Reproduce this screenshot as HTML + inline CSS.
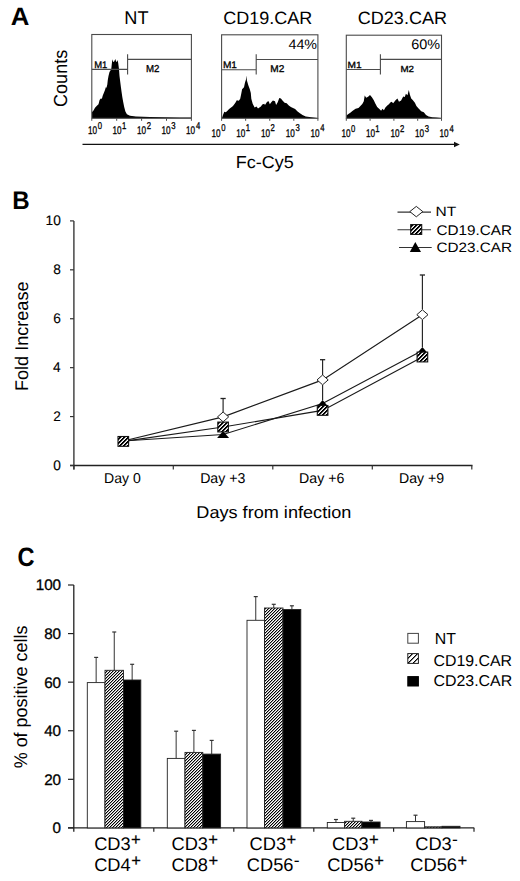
<!DOCTYPE html>
<html><head><meta charset="utf-8"><style>
html,body{margin:0;padding:0;background:#fff;}
svg{display:block;}
text{font-family:"Liberation Sans", sans-serif;fill:#000;font-kerning:none;text-rendering:geometricPrecision;}
.s{stroke:#000;stroke-width:0.3px;}
.n{stroke:#000;stroke-width:0.3px;}
.nb{stroke:#000;stroke-width:0.12px;}
.p{stroke:#000;stroke-width:0.25px;}
</style></head><body>
<svg width="520" height="881" viewBox="0 0 520 881">
<rect width="520" height="881" fill="#fff"/>
<text x="10.81" y="24.62" font-size="25.25" font-weight="bold" textLength="18.62" lengthAdjust="spacingAndGlyphs">A</text>
<text x="124.31" y="23.90" font-size="18.46" textLength="24.21" lengthAdjust="spacingAndGlyphs">NT</text>
<text x="223.29" y="23.90" font-size="17.76" textLength="89.05" lengthAdjust="spacingAndGlyphs">CD19.CAR</text>
<text x="357.78" y="23.80" font-size="17.90" textLength="89.25" lengthAdjust="spacingAndGlyphs">CD23.CAR</text>
<text transform="translate(67.30,106.91) rotate(-90)" x="0" y="0" font-size="18.90" textLength="57.07" lengthAdjust="spacingAndGlyphs">Counts</text>
<text x="235.72" y="168.30" font-size="17.33" textLength="58.03" lengthAdjust="spacingAndGlyphs">Fc-Cy5</text>
<line x1="82.5" y1="144.4" x2="455" y2="144.4" stroke="#111" stroke-width="1.4"/>
<polygon points="454,141.8 459.8,144.5 454,147.2" fill="#111"/>
<polygon points="91.9,118.2 91.9,112.3 93.5,110.4 95,107.7 96.9,105.8 98.5,104.2 99.6,100 100.8,98.5 101.9,98.8 102.7,95.8 103.8,93.1 105,90 105.8,87.3 106.5,87.7 107.3,84.6 107.8,80 108.5,76 109.5,72 111.25,69.3 111.8,64 112.4,59.2 113.2,62 114.2,61.5 115.3,58.9 116.3,62 117.0,61.5 117.6,60.1 118.2,63 119,69.3 119.5,76 120,80 120.8,86.2 121.5,91.5 122.3,96.9 123.1,101.5 124.2,106.9 125.4,111.5 126.9,114.2 130,115.8 136,116.6 150,116.9 165,117.2 180,117.4 191.2,117.6 191.2,118.2" fill="#000"/>
<rect x="91.8" y="34.5" width="99.60" height="83.80" fill="none" stroke="#4a4a4a" stroke-width="1.1"/>
<path d="M91.8,69.4H127.6M127.6,54.2V74.4M127.6,59.4H191.4" fill="none" stroke="#4a4a4a" stroke-width="1.1"/>
<text x="94.22" y="67.70" font-size="9.45" class="s" textLength="13.14" lengthAdjust="spacingAndGlyphs">M1</text>
<text x="146.00" y="72.00" font-size="10.03" class="s" textLength="13.48" lengthAdjust="spacingAndGlyphs">M2</text>
<line x1="91.80" y1="118.3" x2="91.80" y2="120.8" stroke="#4a4a4a" stroke-width="1"/>
<text class="s" transform="translate(88.08,133.80) scale(0.73,1)" font-size="11.2">10</text>
<text class="s" transform="translate(97.80,128.70) scale(0.78,1)" font-size="9.9">0</text>
<line x1="116.70" y1="118.3" x2="116.70" y2="120.8" stroke="#4a4a4a" stroke-width="1"/>
<text class="s" transform="translate(112.58,133.80) scale(0.73,1)" font-size="11.2">10</text>
<text class="s" transform="translate(122.01,128.70) scale(0.78,1)" font-size="9.9">1</text>
<line x1="141.60" y1="118.3" x2="141.60" y2="120.8" stroke="#4a4a4a" stroke-width="1"/>
<text class="s" transform="translate(137.08,133.80) scale(0.73,1)" font-size="11.2">10</text>
<text class="s" transform="translate(146.71,128.70) scale(0.78,1)" font-size="9.9">2</text>
<line x1="166.50" y1="118.3" x2="166.50" y2="120.8" stroke="#4a4a4a" stroke-width="1"/>
<text class="s" transform="translate(161.58,133.80) scale(0.73,1)" font-size="11.2">10</text>
<text class="s" transform="translate(171.31,128.70) scale(0.78,1)" font-size="9.9">3</text>
<line x1="191.40" y1="118.3" x2="191.40" y2="120.8" stroke="#4a4a4a" stroke-width="1"/>
<text class="s" transform="translate(186.08,133.80) scale(0.73,1)" font-size="11.2">10</text>
<text class="s" transform="translate(195.92,128.70) scale(0.78,1)" font-size="9.9">4</text>
<polygon points="221.9,118.2 222.9,115.2 224.3,111.8 225.8,112.3 227.2,110.9 229.1,108.9 231.1,107.5 233,106.1 235.4,102.7 236.8,100.3 238.8,100.8 240.2,98.8 241.2,94 242.1,89.2 244,87.3 245,82.5 246,79.6 246.4,75.5 246.9,80.6 248.4,85.4 249.8,89.2 250.8,93.1 251.3,98.8 252.7,103.7 254.6,107.5 256.5,106.5 258,108.5 259.4,107.5 260.9,106.5 262.3,104.6 264.2,103.7 265,104.9 267.1,101.7 268.7,101.2 269.8,104.3 271.3,102.2 272.9,100.6 275,101.2 276.1,104.9 277.7,102.2 279.3,98 280.9,98.5 282.5,100.6 284.6,102.7 286.7,103.3 288.8,105.4 290.9,107 293,108 295.1,109.1 297.3,111.2 299.9,113.3 302.5,114.9 305.7,116.5 309.4,117 313.7,117.5 317.6,118.0 317.6,118.2" fill="#000"/>
<rect x="221.6" y="34.8" width="96.30" height="83.50" fill="none" stroke="#4a4a4a" stroke-width="1.1"/>
<path d="M221.6,69.7H256.2M256.2,54.2V74.4M256.2,59.5H317.9" fill="none" stroke="#4a4a4a" stroke-width="1.1"/>
<text x="222.97" y="67.70" font-size="9.45" class="s" textLength="14.02" lengthAdjust="spacingAndGlyphs">M1</text>
<text x="270.27" y="72.10" font-size="9.88" class="s" textLength="14.04" lengthAdjust="spacingAndGlyphs">M2</text>
<line x1="221.60" y1="118.3" x2="221.60" y2="120.8" stroke="#4a4a4a" stroke-width="1"/>
<text class="s" transform="translate(211.58,136.50) scale(0.73,1)" font-size="11.2">10</text>
<text class="s" transform="translate(221.30,131.40) scale(0.78,1)" font-size="9.9">0</text>
<line x1="245.67" y1="118.3" x2="245.67" y2="120.8" stroke="#4a4a4a" stroke-width="1"/>
<text class="s" transform="translate(236.28,136.50) scale(0.73,1)" font-size="11.2">10</text>
<text class="s" transform="translate(245.71,131.40) scale(0.78,1)" font-size="9.9">1</text>
<line x1="269.75" y1="118.3" x2="269.75" y2="120.8" stroke="#4a4a4a" stroke-width="1"/>
<text class="s" transform="translate(260.98,136.50) scale(0.73,1)" font-size="11.2">10</text>
<text class="s" transform="translate(270.61,131.40) scale(0.78,1)" font-size="9.9">2</text>
<line x1="293.82" y1="118.3" x2="293.82" y2="120.8" stroke="#4a4a4a" stroke-width="1"/>
<text class="s" transform="translate(285.68,136.50) scale(0.73,1)" font-size="11.2">10</text>
<text class="s" transform="translate(295.41,131.40) scale(0.78,1)" font-size="9.9">3</text>
<line x1="317.90" y1="118.3" x2="317.90" y2="120.8" stroke="#4a4a4a" stroke-width="1"/>
<text class="s" transform="translate(310.38,136.50) scale(0.73,1)" font-size="11.2">10</text>
<text class="s" transform="translate(320.22,131.40) scale(0.78,1)" font-size="9.9">4</text>
<polygon points="346.4,118.2 346.4,115.6 348.4,114.1 350.3,112.7 352.7,110.8 355.6,108.8 358.5,107.9 360.4,106 362.3,104 363.8,101.2 364.7,95.4 366.2,97.8 368.1,96.8 370,94.9 371.9,97.3 373.8,100.2 375.3,103.6 377.2,106.9 379.1,108.8 381.1,110.8 382.5,108.8 383.9,110.3 385.4,107.4 387.3,105.5 389.2,104 390,102.7 391.6,101.7 393.2,103.3 395.3,100.6 397.4,98.5 399,101.7 401.1,100.6 403.2,96.4 404.8,96.9 405.9,93.8 407.5,95.3 408.8,90 409.9,94.8 411.2,98.5 412.7,100.1 414.9,102.7 416.4,105.9 418.6,108.6 421.2,111.2 423.8,112.3 426,114.9 428.6,116.5 432.3,117.2 436.5,117.5 441.1,118.0 441.1,118.2" fill="#000"/>
<rect x="346.3" y="35.2" width="95.20" height="83.10" fill="none" stroke="#4a4a4a" stroke-width="1.1"/>
<path d="M346.3,69.5H380.4M380.4,54.2V74.4M380.4,59.4H441.5" fill="none" stroke="#4a4a4a" stroke-width="1.1"/>
<text x="347.57" y="67.70" font-size="9.01" class="s" textLength="14.13" lengthAdjust="spacingAndGlyphs">M1</text>
<text x="400.40" y="71.60" font-size="8.88" class="s" textLength="13.59" lengthAdjust="spacingAndGlyphs">M2</text>
<line x1="346.30" y1="118.3" x2="346.30" y2="120.8" stroke="#4a4a4a" stroke-width="1"/>
<text class="s" transform="translate(341.38,136.70) scale(0.73,1)" font-size="11.2">10</text>
<text class="s" transform="translate(351.10,131.60) scale(0.78,1)" font-size="9.9">0</text>
<line x1="370.10" y1="118.3" x2="370.10" y2="120.8" stroke="#4a4a4a" stroke-width="1"/>
<text class="s" transform="translate(365.93,136.70) scale(0.73,1)" font-size="11.2">10</text>
<text class="s" transform="translate(375.36,131.60) scale(0.78,1)" font-size="9.9">1</text>
<line x1="393.90" y1="118.3" x2="393.90" y2="120.8" stroke="#4a4a4a" stroke-width="1"/>
<text class="s" transform="translate(390.48,136.70) scale(0.73,1)" font-size="11.2">10</text>
<text class="s" transform="translate(400.11,131.60) scale(0.78,1)" font-size="9.9">2</text>
<line x1="417.70" y1="118.3" x2="417.70" y2="120.8" stroke="#4a4a4a" stroke-width="1"/>
<text class="s" transform="translate(415.03,136.70) scale(0.73,1)" font-size="11.2">10</text>
<text class="s" transform="translate(424.76,131.60) scale(0.78,1)" font-size="9.9">3</text>
<line x1="441.50" y1="118.3" x2="441.50" y2="120.8" stroke="#4a4a4a" stroke-width="1"/>
<text class="s" transform="translate(439.58,136.70) scale(0.73,1)" font-size="11.2">10</text>
<text class="s" transform="translate(449.42,131.60) scale(0.78,1)" font-size="9.9">4</text>
<text x="288.47" y="48.80" font-size="13.84" textLength="28.54" lengthAdjust="spacingAndGlyphs">44%</text>
<text x="411.17" y="48.80" font-size="13.89" textLength="28.85" lengthAdjust="spacingAndGlyphs">60%</text>
<text x="12.24" y="208.62" font-size="25.40" font-weight="bold" textLength="17.41" lengthAdjust="spacingAndGlyphs">B</text>
<line x1="73.9" y1="220.9" x2="73.9" y2="469.6" stroke="#333" stroke-width="1.35"/>
<line x1="70" y1="465.5" x2="472.5" y2="465.5" stroke="#222" stroke-width="1.35"/>
<line x1="70" y1="465.50" x2="73.9" y2="465.50" stroke="#333" stroke-width="1.2"/>
<text x="53.21" y="470.00" font-size="13.89" class="nb" textLength="7.63" lengthAdjust="spacingAndGlyphs">0</text>
<line x1="70" y1="416.58" x2="73.9" y2="416.58" stroke="#333" stroke-width="1.2"/>
<text x="53.36" y="421.08" font-size="13.89" class="nb" textLength="7.63" lengthAdjust="spacingAndGlyphs">2</text>
<line x1="70" y1="367.66" x2="73.9" y2="367.66" stroke="#333" stroke-width="1.2"/>
<text x="53.07" y="372.16" font-size="14.10" class="nb" textLength="7.63" lengthAdjust="spacingAndGlyphs">4</text>
<line x1="70" y1="318.74" x2="73.9" y2="318.74" stroke="#333" stroke-width="1.2"/>
<text x="53.27" y="323.24" font-size="13.89" class="nb" textLength="7.63" lengthAdjust="spacingAndGlyphs">6</text>
<line x1="70" y1="269.82" x2="73.9" y2="269.82" stroke="#333" stroke-width="1.2"/>
<text x="53.27" y="274.32" font-size="13.89" class="nb" textLength="7.63" lengthAdjust="spacingAndGlyphs">8</text>
<line x1="70" y1="220.90" x2="73.9" y2="220.90" stroke="#333" stroke-width="1.2"/>
<text x="45.58" y="225.40" font-size="13.89" class="nb" textLength="15.26" lengthAdjust="spacingAndGlyphs">10</text>
<line x1="73.9" y1="465.5" x2="73.9" y2="469.4" stroke="#333" stroke-width="1.2"/>
<line x1="173.3" y1="465.5" x2="173.3" y2="469.4" stroke="#333" stroke-width="1.2"/>
<line x1="272.8" y1="465.5" x2="272.8" y2="469.4" stroke="#333" stroke-width="1.2"/>
<line x1="372.3" y1="465.5" x2="372.3" y2="469.4" stroke="#333" stroke-width="1.2"/>
<line x1="471.8" y1="465.5" x2="471.8" y2="469.4" stroke="#333" stroke-width="1.2"/>
<text x="104.05" y="483.20" font-size="14.18" textLength="36.70" lengthAdjust="spacingAndGlyphs">Day 0</text>
<text x="200.14" y="483.20" font-size="14.32" textLength="45.28" lengthAdjust="spacingAndGlyphs">Day +3</text>
<text x="299.04" y="483.20" font-size="14.32" textLength="45.28" lengthAdjust="spacingAndGlyphs">Day +6</text>
<text x="399.04" y="483.20" font-size="14.32" textLength="45.13" lengthAdjust="spacingAndGlyphs">Day +9</text>
<text x="196.31" y="517.50" font-size="16.97" textLength="155.06" lengthAdjust="spacingAndGlyphs">Days from infection</text>
<text transform="translate(27.50,391.08) rotate(-90)" x="0" y="0" font-size="18.35" textLength="109.59" lengthAdjust="spacingAndGlyphs">Fold Increase</text>
<defs><pattern id="hB" patternUnits="userSpaceOnUse" x="0" y="0" width="4" height="4"><rect x="0" y="0" width="1" height="1" fill="#000"/><rect x="1" y="0" width="1" height="1" fill="#000"/><rect x="2" y="0" width="1" height="1" fill="#aaa"/><rect x="3" y="0" width="1" height="1" fill="#fff"/><rect x="0" y="1" width="1" height="1" fill="#000"/><rect x="1" y="1" width="1" height="1" fill="#aaa"/><rect x="2" y="1" width="1" height="1" fill="#fff"/><rect x="3" y="1" width="1" height="1" fill="#000"/><rect x="0" y="2" width="1" height="1" fill="#aaa"/><rect x="1" y="2" width="1" height="1" fill="#fff"/><rect x="2" y="2" width="1" height="1" fill="#000"/><rect x="3" y="2" width="1" height="1" fill="#000"/><rect x="0" y="3" width="1" height="1" fill="#fff"/><rect x="1" y="3" width="1" height="1" fill="#000"/><rect x="2" y="3" width="1" height="1" fill="#000"/><rect x="3" y="3" width="1" height="1" fill="#aaa"/></pattern><pattern id="hC" patternUnits="userSpaceOnUse" x="0" y="0" width="3" height="3"><rect x="0" y="0" width="1" height="1" fill="#000"/><rect x="1" y="0" width="1" height="1" fill="#a0a0a0"/><rect x="2" y="0" width="1" height="1" fill="#fff"/><rect x="0" y="1" width="1" height="1" fill="#a0a0a0"/><rect x="1" y="1" width="1" height="1" fill="#fff"/><rect x="2" y="1" width="1" height="1" fill="#000"/><rect x="0" y="2" width="1" height="1" fill="#fff"/><rect x="1" y="2" width="1" height="1" fill="#000"/><rect x="2" y="2" width="1" height="1" fill="#a0a0a0"/></pattern><pattern id="hL" patternUnits="userSpaceOnUse" x="0" y="0" width="5" height="5"><rect x="0" y="0" width="1" height="1" fill="#000"/><rect x="1" y="0" width="1" height="1" fill="#777"/><rect x="2" y="0" width="1" height="1" fill="#fff"/><rect x="3" y="0" width="1" height="1" fill="#fff"/><rect x="4" y="0" width="1" height="1" fill="#fff"/><rect x="0" y="1" width="1" height="1" fill="#777"/><rect x="1" y="1" width="1" height="1" fill="#fff"/><rect x="2" y="1" width="1" height="1" fill="#fff"/><rect x="3" y="1" width="1" height="1" fill="#fff"/><rect x="4" y="1" width="1" height="1" fill="#000"/><rect x="0" y="2" width="1" height="1" fill="#fff"/><rect x="1" y="2" width="1" height="1" fill="#fff"/><rect x="2" y="2" width="1" height="1" fill="#fff"/><rect x="3" y="2" width="1" height="1" fill="#000"/><rect x="4" y="2" width="1" height="1" fill="#777"/><rect x="0" y="3" width="1" height="1" fill="#fff"/><rect x="1" y="3" width="1" height="1" fill="#fff"/><rect x="2" y="3" width="1" height="1" fill="#000"/><rect x="3" y="3" width="1" height="1" fill="#777"/><rect x="4" y="3" width="1" height="1" fill="#fff"/><rect x="0" y="4" width="1" height="1" fill="#fff"/><rect x="1" y="4" width="1" height="1" fill="#000"/><rect x="2" y="4" width="1" height="1" fill="#777"/><rect x="3" y="4" width="1" height="1" fill="#fff"/><rect x="4" y="4" width="1" height="1" fill="#fff"/></pattern></defs>
<polyline points="123.3,441.0 223.1,416.9 322.6,379.9 422.4,314.7" fill="none" stroke="#1a1a1a" stroke-width="1.15"/>
<polyline points="123.3,441.4 223.1,427.0 322.6,410.4 422.4,357.0" fill="none" stroke="#1a1a1a" stroke-width="1.15"/>
<polyline points="123.3,441.0 223.1,434.5 322.6,403.5 422.4,350.5" fill="none" stroke="#1a1a1a" stroke-width="1.15"/>
<line x1="223.1" y1="398.5" x2="223.1" y2="412" stroke="#222" stroke-width="1.15"/>
<line x1="220.5" y1="398.5" x2="225.7" y2="398.5" stroke="#222" stroke-width="1.3"/>
<line x1="322.6" y1="359.7" x2="322.6" y2="375" stroke="#222" stroke-width="1.15"/>
<line x1="320.0" y1="359.7" x2="325.20000000000005" y2="359.7" stroke="#222" stroke-width="1.3"/>
<line x1="422.4" y1="275" x2="422.4" y2="309.5" stroke="#222" stroke-width="1.15"/>
<line x1="419.79999999999995" y1="275" x2="425.0" y2="275" stroke="#222" stroke-width="1.3"/>
<line x1="322.6" y1="385" x2="322.6" y2="400" stroke="#222" stroke-width="1.15"/>
<line x1="422.4" y1="320" x2="422.4" y2="347" stroke="#222" stroke-width="1.15"/>
<polygon points="217.10,438.00 223.10,431.00 229.10,438.00" fill="#000"/>
<polygon points="316.60,407.00 322.60,400.00 328.60,407.00" fill="#000"/>
<polygon points="416.40,354.00 422.40,347.00 428.40,354.00" fill="#000"/>
<rect x="118.00" y="436.50" width="10.6" height="9.8" fill="url(#hB)" stroke="#111" stroke-width="1.1"/>
<rect x="217.80" y="422.10" width="10.6" height="9.8" fill="url(#hB)" stroke="#111" stroke-width="1.1"/>
<rect x="317.30" y="405.50" width="10.6" height="9.8" fill="url(#hB)" stroke="#111" stroke-width="1.1"/>
<rect x="417.10" y="352.10" width="10.6" height="9.8" fill="url(#hB)" stroke="#111" stroke-width="1.1"/>
<polygon points="217.50,416.9 223.1,412.00 228.70,416.9 223.1,421.80" fill="#fff" stroke="#222" stroke-width="1"/>
<polygon points="317.00,379.9 322.6,375.00 328.20,379.9 322.6,384.80" fill="#fff" stroke="#222" stroke-width="1"/>
<polygon points="416.80,314.7 422.4,309.80 428.00,314.7 422.4,319.60" fill="#fff" stroke="#222" stroke-width="1"/>
<line x1="397.5" y1="212.1" x2="431" y2="212.1" stroke="#333" stroke-width="1.1"/>
<polygon points="409.80,211.6 416.3,206.40 422.80,211.6 416.3,216.80" fill="#fff" stroke="#222" stroke-width="1"/>
<line x1="397.5" y1="229.8" x2="431" y2="229.8" stroke="#333" stroke-width="1.1"/>
<rect x="410.70" y="224.60" width="11.0" height="9.8" fill="url(#hB)" stroke="#111" stroke-width="1.1"/>
<line x1="399" y1="247.5" x2="431.7" y2="247.5" stroke="#333" stroke-width="1.1"/>
<polygon points="409.8,251.9 415.3,242.1 421,251.9" fill="#000"/>
<text x="435.62" y="216.20" font-size="13.52" textLength="20.73" lengthAdjust="spacingAndGlyphs">NT</text>
<text x="436.52" y="234.60" font-size="14.04" textLength="75.48" lengthAdjust="spacingAndGlyphs">CD19.CAR</text>
<text x="436.52" y="252.20" font-size="13.61" textLength="75.48" lengthAdjust="spacingAndGlyphs">CD23.CAR</text>
<text x="17.48" y="566.33" font-size="26.46" font-weight="bold" textLength="17.01" lengthAdjust="spacingAndGlyphs">C</text>
<line x1="73.8" y1="585" x2="73.8" y2="831.8" stroke="#222" stroke-width="1.3"/>
<line x1="68" y1="827.9" x2="474.3" y2="827.9" stroke="#222" stroke-width="1.3"/>
<line x1="68" y1="827.90" x2="73.8" y2="827.90" stroke="#222" stroke-width="1.2"/>
<text x="52.62" y="833.30" font-size="15.32" class="n" textLength="8.48" lengthAdjust="spacingAndGlyphs">0</text>
<line x1="68" y1="779.32" x2="73.8" y2="779.32" stroke="#222" stroke-width="1.2"/>
<text x="44.14" y="784.72" font-size="15.32" class="n" textLength="16.96" lengthAdjust="spacingAndGlyphs">20</text>
<line x1="68" y1="730.74" x2="73.8" y2="730.74" stroke="#222" stroke-width="1.2"/>
<text x="44.14" y="736.14" font-size="15.32" class="n" textLength="16.96" lengthAdjust="spacingAndGlyphs">40</text>
<line x1="68" y1="682.16" x2="73.8" y2="682.16" stroke="#222" stroke-width="1.2"/>
<text x="44.14" y="687.56" font-size="15.32" class="n" textLength="16.96" lengthAdjust="spacingAndGlyphs">60</text>
<line x1="68" y1="633.58" x2="73.8" y2="633.58" stroke="#222" stroke-width="1.2"/>
<text x="44.14" y="638.98" font-size="15.32" class="n" textLength="16.96" lengthAdjust="spacingAndGlyphs">80</text>
<line x1="68" y1="585.00" x2="73.8" y2="585.00" stroke="#222" stroke-width="1.2"/>
<text x="35.66" y="590.40" font-size="15.32" class="n" textLength="25.44" lengthAdjust="spacingAndGlyphs">100</text>
<line x1="153.8" y1="827.9" x2="153.8" y2="831.8" stroke="#222" stroke-width="1.2"/>
<line x1="233.8" y1="827.9" x2="233.8" y2="831.8" stroke="#222" stroke-width="1.2"/>
<line x1="313.8" y1="827.9" x2="313.8" y2="831.8" stroke="#222" stroke-width="1.2"/>
<line x1="393.6" y1="827.9" x2="393.6" y2="831.8" stroke="#222" stroke-width="1.2"/>
<line x1="474.0" y1="827.9" x2="474.0" y2="831.8" stroke="#222" stroke-width="1.2"/>
<line x1="96.15" y1="657.4" x2="96.15" y2="682.6" stroke="#333" stroke-width="1"/>
<line x1="94.15" y1="657.4" x2="98.15" y2="657.4" stroke="#333" stroke-width="1.2"/>
<line x1="114.25" y1="632" x2="114.25" y2="670.3" stroke="#333" stroke-width="1"/>
<line x1="112.25" y1="632" x2="116.25" y2="632" stroke="#333" stroke-width="1.2"/>
<line x1="132.15" y1="664.3" x2="132.15" y2="680" stroke="#333" stroke-width="1"/>
<line x1="130.15" y1="664.3" x2="134.15" y2="664.3" stroke="#333" stroke-width="1.2"/>
<line x1="176.15" y1="731.2" x2="176.15" y2="758.4" stroke="#333" stroke-width="1"/>
<line x1="174.15" y1="731.2" x2="178.15" y2="731.2" stroke="#333" stroke-width="1.2"/>
<line x1="193.90" y1="730.4" x2="193.90" y2="752.4" stroke="#333" stroke-width="1"/>
<line x1="191.90" y1="730.4" x2="195.90" y2="730.4" stroke="#333" stroke-width="1.2"/>
<line x1="211.70" y1="740.4" x2="211.70" y2="754.1" stroke="#333" stroke-width="1"/>
<line x1="209.70" y1="740.4" x2="213.70" y2="740.4" stroke="#333" stroke-width="1.2"/>
<line x1="255.75" y1="596.6" x2="255.75" y2="620.3" stroke="#333" stroke-width="1"/>
<line x1="253.75" y1="596.6" x2="257.75" y2="596.6" stroke="#333" stroke-width="1.2"/>
<line x1="273.75" y1="604.3" x2="273.75" y2="608" stroke="#333" stroke-width="1"/>
<line x1="271.75" y1="604.3" x2="275.75" y2="604.3" stroke="#333" stroke-width="1.2"/>
<line x1="291.90" y1="605.8" x2="291.90" y2="609.5" stroke="#333" stroke-width="1"/>
<line x1="289.90" y1="605.8" x2="293.90" y2="605.8" stroke="#333" stroke-width="1.2"/>
<line x1="335.95" y1="819.5" x2="335.95" y2="822.5" stroke="#333" stroke-width="1"/>
<line x1="333.95" y1="819.5" x2="337.95" y2="819.5" stroke="#333" stroke-width="1.2"/>
<line x1="353.25" y1="818.2" x2="353.25" y2="821.3" stroke="#333" stroke-width="1"/>
<line x1="351.25" y1="818.2" x2="355.25" y2="818.2" stroke="#333" stroke-width="1.2"/>
<line x1="371.00" y1="820.4" x2="371.00" y2="822" stroke="#333" stroke-width="1"/>
<line x1="369.00" y1="820.4" x2="373.00" y2="820.4" stroke="#333" stroke-width="1.2"/>
<line x1="415.50" y1="815.2" x2="415.50" y2="821.6" stroke="#333" stroke-width="1"/>
<line x1="413.50" y1="815.2" x2="417.50" y2="815.2" stroke="#333" stroke-width="1.2"/>
<rect x="87.3" y="682.6" width="17.70" height="145.30" fill="#fff" stroke="#222" stroke-width="0.9"/>
<rect x="105" y="670.3" width="18.50" height="157.60" fill="url(#hC)" stroke="#222" stroke-width="0.9"/>
<rect x="123.5" y="680" width="17.30" height="147.90" fill="#000" stroke="#222" stroke-width="0.9"/>
<rect x="167.3" y="758.4" width="17.70" height="69.50" fill="#fff" stroke="#222" stroke-width="0.9"/>
<rect x="185" y="752.4" width="17.80" height="75.50" fill="url(#hC)" stroke="#222" stroke-width="0.9"/>
<rect x="202.8" y="754.1" width="17.80" height="73.80" fill="#000" stroke="#222" stroke-width="0.9"/>
<rect x="247" y="620.3" width="17.50" height="207.60" fill="#fff" stroke="#222" stroke-width="0.9"/>
<rect x="264.5" y="608" width="18.50" height="219.90" fill="url(#hC)" stroke="#222" stroke-width="0.9"/>
<rect x="283" y="609.5" width="17.80" height="218.40" fill="#000" stroke="#222" stroke-width="0.9"/>
<rect x="327.3" y="822.5" width="17.30" height="5.40" fill="#fff" stroke="#222" stroke-width="0.9"/>
<rect x="344.6" y="821.3" width="17.30" height="6.60" fill="url(#hC)" stroke="#222" stroke-width="0.9"/>
<rect x="361.9" y="822" width="18.20" height="5.90" fill="#000" stroke="#222" stroke-width="0.9"/>
<rect x="406.4" y="821.6" width="18.20" height="6.30" fill="#fff" stroke="#222" stroke-width="0.9"/>
<rect x="424.6" y="826.8" width="17.40" height="1.10" fill="url(#hC)" stroke="#222" stroke-width="0.9"/>
<rect x="442" y="826.3" width="18.00" height="1.60" fill="#000" stroke="#222" stroke-width="0.9"/>
<rect x="407.8" y="633.4" width="10.6" height="9.8" fill="#fff" stroke="#444" stroke-width="1"/>
<rect x="407.8" y="653.6" width="10.6" height="9.8" fill="url(#hL)" stroke="#222" stroke-width="1"/>
<rect x="407.8" y="676.6" width="10.6" height="9.4" fill="#000" stroke="#000" stroke-width="1"/>
<text x="434.80" y="643.70" font-size="15.84" textLength="21.17" lengthAdjust="spacingAndGlyphs">NT</text>
<text x="433.49" y="665.60" font-size="15.75" textLength="78.54" lengthAdjust="spacingAndGlyphs">CD19.CAR</text>
<text x="433.49" y="686.30" font-size="15.61" textLength="78.75" lengthAdjust="spacingAndGlyphs">CD23.CAR</text>
<text transform="translate(27.40,768.34) rotate(-90)" x="0" y="0" font-size="18.35" textLength="142.79" lengthAdjust="spacingAndGlyphs">% of positive cells</text>
<text x="94.17" y="850.2" font-size="18.25">CD3</text>
<text x="131.07" y="844.90" font-size="16.6" class="p">+</text>
<text x="94.17" y="871.1" font-size="18.25">CD4</text>
<text x="131.33" y="865.80" font-size="16.6" class="p">+</text>
<text x="171.47" y="850.2" font-size="18.25">CD3</text>
<text x="208.37" y="844.90" font-size="16.6" class="p">+</text>
<text x="171.47" y="871.1" font-size="18.25">CD8</text>
<text x="208.38" y="865.80" font-size="16.6" class="p">+</text>
<text x="249.57" y="850.2" font-size="18.25">CD3</text>
<text x="286.47" y="844.90" font-size="16.6" class="p">+</text>
<text x="246.87" y="871.1" font-size="18.25">CD56</text>
<text x="293.86" y="866.20" font-size="17.5">-</text>
<text x="332.07" y="850.2" font-size="18.25">CD3</text>
<text x="368.97" y="844.90" font-size="16.6" class="p">+</text>
<text x="327.17" y="871.1" font-size="18.25">CD56</text>
<text x="374.22" y="865.80" font-size="16.6" class="p">+</text>
<text x="415.27" y="850.2" font-size="18.25">CD3</text>
<text x="452.11" y="845.30" font-size="17.5">-</text>
<text x="410.37" y="871.1" font-size="18.25">CD56</text>
<text x="457.42" y="865.80" font-size="16.6" class="p">+</text>
</svg>
</body></html>
